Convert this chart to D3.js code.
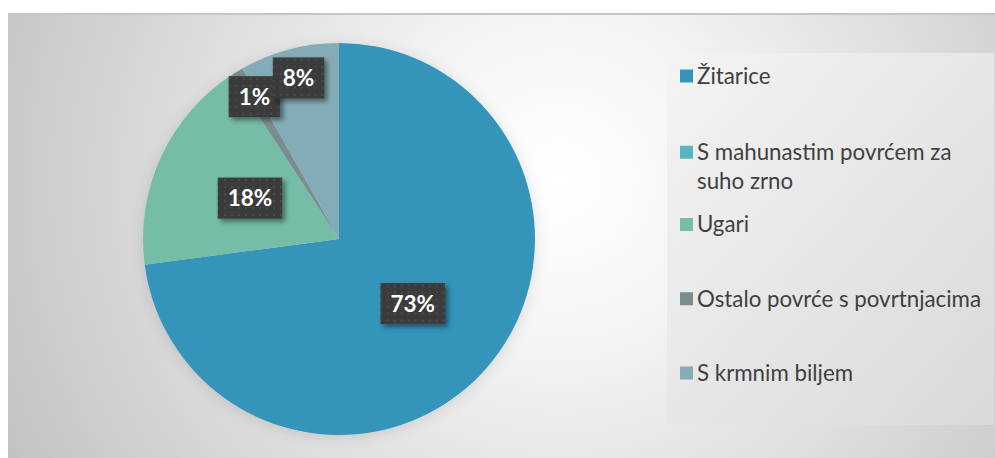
<!DOCTYPE html>
<html lang="hr">
<head>
<meta charset="UTF-8">
<title>Struktura oranica</title>
<script src="https://d3js.org/d3.v7.min.js"></script>
<style>
  html, body { margin: 0; padding: 0; background: #ffffff; }
  svg { display: block; font-family: Lato, "Open Sans", sans-serif; }
</style>
</head>
<body>
<svg id="chart" width="995" height="458"></svg>
<script>
// data
const categories = ["Žitarice", "S mahunastim povrćem za suho zrno", "Ugari", "Ostalo povrće s povrtnjacima", "S krmnim biljem"];
const shares = [72.9, 0, 17.9, 1.0, 8.2];
const legendLines = [["Žitarice"], ["S mahunastim povrćem za", "suho zrno"], ["Ugari"], ["Ostalo povrće s povrtnjacima"], ["S krmnim biljem"]];
const colors = ["#3494BA", "#58B6C0", "#75BDA7", "#7A8C8E", "#84ACB6"];

const W = 995, H = 458;
const svg = d3.select("#chart");
const defs = svg.append("defs");

// chart area background
const bg = defs.append("radialGradient").attr("id", "bgGrad")
  .attr("gradientUnits", "userSpaceOnUse")
  .attr("cx", 560).attr("cy", 180).attr("r", 620);
bg.append("stop").attr("offset", 0).attr("stop-color", "#ffffff");
bg.append("stop").attr("offset", 0.25).attr("stop-color", "#f5f5f5");
bg.append("stop").attr("offset", 0.65).attr("stop-color", "#dadada");
bg.append("stop").attr("offset", 1).attr("stop-color", "#c2c2c2");

const lg = defs.append("linearGradient").attr("id", "legGrad")
  .attr("x1", 0).attr("y1", 0).attr("x2", 1).attr("y2", 1);
lg.append("stop").attr("offset", 0).attr("stop-color", "#f4f4f4");
lg.append("stop").attr("offset", 1).attr("stop-color", "#d9d9d9");

const pat = defs.append("pattern").attr("id", "dots")
  .attr("width", 7).attr("height", 7).attr("patternUnits", "userSpaceOnUse");
pat.append("rect").attr("width", 7).attr("height", 7).attr("fill", "#3a3a3a");
pat.append("rect").attr("x", 2).attr("y", 2).attr("width", 2).attr("height", 2).attr("fill", "#4c4c4c");

const sh = defs.append("filter").attr("id", "boxShadow")
  .attr("x", "-30%").attr("y", "-30%").attr("width", "160%").attr("height", "160%");
sh.append("feDropShadow").attr("dx", 3).attr("dy", 3).attr("stdDeviation", 2.5)
  .attr("flood-color", "#000").attr("flood-opacity", 0.45);

const pieSh = defs.append("filter").attr("id", "pieShadow")
  .attr("x", "-20%").attr("y", "-20%").attr("width", "140%").attr("height", "140%");
pieSh.append("feDropShadow").attr("dx", 0).attr("dy", 2).attr("stdDeviation", 7)
  .attr("flood-color", "#000").attr("flood-opacity", 0.12);

svg.append("rect").attr("x", 8).attr("y", 13).attr("width", W - 8).attr("height", H - 13)
  .attr("fill", "url(#bgGrad)");
svg.append("line").attr("x1", 8).attr("x2", W).attr("y1", 14).attr("y2", 14)
  .attr("stroke", "#c6c6c6").attr("stroke-width", 2);

// pie
const cx = 339, cy = 239, R = 196;
const pie = d3.pie().sort(null).value(d => d);
const arcs = pie(shares);
const arc = d3.arc().innerRadius(0).outerRadius(R);
const g = svg.append("g").attr("transform", `translate(${cx},${cy})`);

g.append("g").attr("filter", "url(#pieShadow)")
  .selectAll("path").data(arcs).join("path")
  .attr("d", arc)
  .attr("fill", (d, i) => colors[i]);

// data labels
const fmt = d3.format(".0%");
const total = d3.sum(shares);
const labels = g.selectAll("g.lbl").data(arcs.filter(d => d.value > 0)).join("g")
  .attr("class", "lbl")
  .attr("transform", d => {
    const rr = d.value / total < 0.1 ? R * 0.85 : R * 0.5;
    const c = d3.arc().innerRadius(rr).outerRadius(rr).centroid(d);
    return `translate(${c[0] + (d.value / total < 0.1 ? 2 : 0)},${c[1]})`;
  });

labels.each(function(d) {
  const sel = d3.select(this);
  const txt = sel.append("text")
    .attr("text-anchor", "middle").attr("dy", "0.36em")
    .attr("fill", "#ffffff").attr("font-weight", "bold").attr("font-size", 22.5)
    .text(fmt(d.value / total));
  const bb = txt.node().getBBox();
  const bw = bb.width + 20, bh = 41;
  sel.insert("rect", "text")
    .attr("x", -bw / 2).attr("y", -bh / 2).attr("width", bw).attr("height", bh)
    .attr("fill", "url(#dots)").attr("filter", "url(#boxShadow)");
});

// legend
svg.append("rect").attr("x", 667).attr("y", 53).attr("width", 327).attr("height", 372)
  .attr("fill", "url(#legGrad)");

const ly = d3.scalePoint().domain(d3.range(categories.length)).range([76, 373]);
const leg = svg.append("g").selectAll("g").data(categories).join("g")
  .attr("transform", (d, i) => `translate(680,${ly(i) + (legendLines[i].length > 1 ? 2 : 0)})`);
leg.append("rect").attr("x", 0).attr("y", -6.5).attr("width", 13).attr("height", 13)
  .attr("fill", (d, i) => colors[i]);
leg.selectAll("text").data((d, i) => legendLines[i]).join("text")
  .attr("x", 17).attr("y", (d, j) => j * 29).attr("dy", "0.35em")
  .attr("fill", "#404040").attr("font-size", 22.3)
  .text(d => d);
</script>
</body>
</html>
